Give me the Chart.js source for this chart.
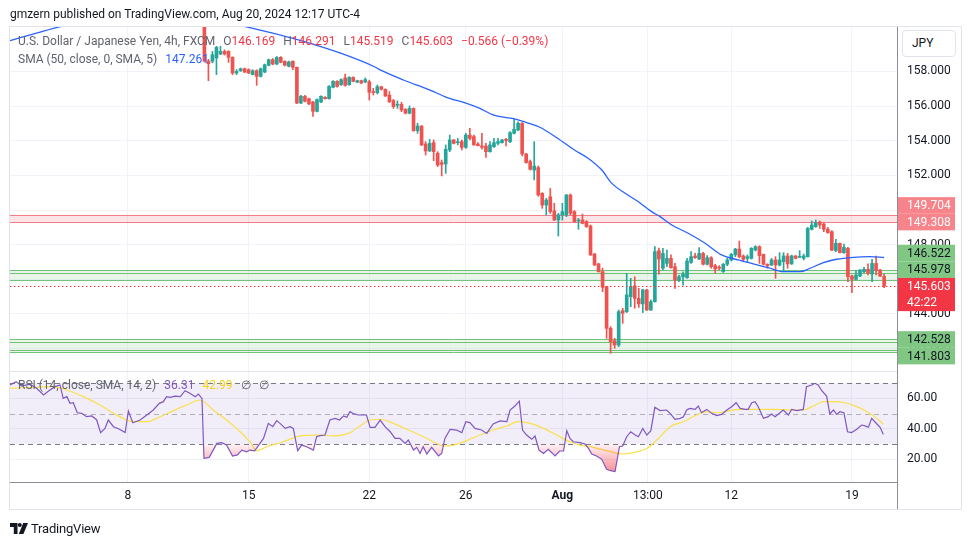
<!DOCTYPE html>
<html><head><meta charset="utf-8">
<script src="https://cdn.jsdelivr.net/npm/chart.js@4.4.1/dist/chart.umd.min.js"></script>
<style>
html,body{margin:0;padding:0;background:#fff;width:970px;height:545px;overflow:hidden;font-family:Roboto,"Noto Sans",sans-serif;}
canvas{position:absolute;left:0;top:0;}
.t{position:absolute;white-space:nowrap;font-size:12px;line-height:16px;z-index:5;}
.t span{margin-left:8px}
.g{color:#60636e}.r{color:#f23645}
</style></head><body>
<div style="position:absolute;left:9px;top:26px;width:953px;height:484px;border:1px solid #e0e3eb;box-sizing:border-box;"></div>
<canvas id="c1" width="970" height="545"></canvas>
<canvas id="c2" width="970" height="545"></canvas>
<div class="t" style="left:10px;top:6px;color:#131722">gmzern published on TradingView.com, Aug 20, 2024 12:17 UTC-4</div>
<div class="t g" style="left:18px;top:33px">U.S. Dollar / Japanese Yen, 4h, FXCM<span>O<b class="r" style="font-weight:normal">146.169</b></span><span>H<b class="r" style="font-weight:normal">146.291</b></span><span>L<b class="r" style="font-weight:normal">145.519</b></span><span>C<b class="r" style="font-weight:normal">145.603</b></span><span class="r">−0.566 (−0.39%)</span></div>
<div class="t g" style="left:18px;top:51px">SMA (50, close, 0, SMA, 5)<span style="color:#2962ff">147.261</span></div>
<div class="t g" style="left:18px;top:377px">RSI (14, close, SMA, 14, 2)<span style="color:#7e57c2">36.31</span><span style="color:#f5d31b">42.99</span><span>∅</span><span>∅</span></div>
<div style="position:absolute;left:902px;top:30px;width:54px;height:27px;border:1px solid #e0e3eb;border-radius:4px;box-sizing:border-box;font-size:12px;line-height:25px;padding-left:9px;color:#131722;z-index:5;background:#fff">JPY</div>
<div style="position:absolute;left:10px;top:521px;z-index:5;display:flex;align-items:center;">
<svg width="18" height="11" viewBox="0 0 18 11"><path d="M0 0h7.5v11H3.8V4H0z" fill="#131722"/><circle cx="9.8" cy="2" r="2" fill="#131722"/><path d="M13.2 0h4.8l-4.6 11H8.8z" fill="#131722"/></svg>
<span style="font-size:13px;color:#131722;margin-left:3px;letter-spacing:-0.2px">TradingView</span></div>
<script>
// ---------------- data ----------------
const candleStart = 49; // candle index of first visible candle (4h bars counted from Jul 1)
const opens = [161.30,158.60,158.59,158.78,159.01,159.16,159.16,158.82,157.91,158.05,
158.16,158.11,157.82,158.05,157.72,157.97,158.36,158.68,158.43,158.82,
158.59,158.30,158.59,158.24,156.18,156.57,156.43,156.24,155.70,156.24,
156.51,156.43,157.09,157.43,157.24,157.63,157.24,157.66,157.39,157.47,
157.39,157.41,156.84,156.78,157.12,156.97,156.64,156.32,156.05,156.10,
155.82,155.59,155.87,154.58,154.85,153.81,153.41,153.89,153.28,152.74,
152.66,153.47,154.05,153.89,153.95,153.62,154.33,154.24,153.81,153.70,
153.70,153.37,153.66,153.85,153.89,154.08,153.95,154.43,154.62,155.01,
153.24,152.80,152.31,152.45,150.97,150.29,150.77,149.95,149.43,149.72,
149.72,150.87,149.91,149.37,149.43,149.33,149.08,147.46,146.89,146.44,
145.58,143.17,142.46,142.21,144.19,144.13,145.00,145.62,144.90,144.58,
145.39,144.23,144.71,147.65,146.64,146.92,147.21,146.73,145.96,146.15,
146.10,146.98,147.35,147.17,147.50,146.87,147.25,146.79,146.71,146.44,
146.87,147.12,147.41,147.75,147.35,147.21,147.21,147.69,147.89,147.44,
146.87,146.83,147.12,146.83,147.02,147.35,146.89,147.35,147.27,147.21,
147.31,148.89,149.04,149.31,149.20,148.89,148.75,147.66,148.08,147.54,
147.79,146.19,146.00,146.19,146.44,146.58,146.31,146.92,146.54,146.169];
const highs = [161.60,158.70,159.16,159.45,159.45,159.25,159.20,158.85,158.11,158.20,
158.20,158.15,158.10,158.10,158.20,158.43,158.72,158.75,158.86,158.86,
158.62,158.60,158.62,158.26,156.62,156.62,156.47,156.28,156.42,156.60,
156.55,157.18,157.47,157.47,157.57,157.85,157.70,157.70,157.50,157.50,
157.63,157.50,157.03,157.22,157.15,157.00,156.84,156.39,156.30,156.22,
155.85,156.01,155.90,155.01,154.88,153.95,154.08,154.05,153.37,152.89,
153.76,154.33,154.08,154.14,154.05,154.43,154.72,154.33,153.89,154.43,
153.85,153.95,154.14,154.14,154.08,154.14,154.53,155.24,155.10,155.05,
153.28,152.89,153.95,152.55,151.00,150.68,151.25,150.39,149.81,150.39,
150.90,150.93,149.97,149.52,149.77,149.39,149.14,147.50,146.93,146.64,
145.60,143.27,142.59,144.23,144.33,146.35,146.06,146.15,145.48,145.42,
145.42,144.81,147.89,147.80,147.79,147.69,147.41,146.92,146.25,146.44,
147.21,147.60,147.50,147.83,147.56,147.37,147.31,146.87,146.79,146.92,
147.21,147.50,147.79,148.21,147.41,147.41,147.83,147.94,147.94,147.46,
146.90,147.21,147.31,147.54,147.54,147.50,147.40,147.38,147.66,147.46,
149.00,149.37,149.43,149.37,149.23,149.00,148.81,148.31,148.10,148.04,
147.85,146.25,146.50,146.56,146.69,146.89,147.15,147.35,146.58,146.291];
const lows = [158.55,157.47,158.50,157.82,158.97,158.95,158.53,157.82,157.82,158.00,
157.93,157.87,157.80,157.20,157.68,157.93,158.32,158.39,158.40,158.50,
158.32,158.26,158.11,156.14,156.14,156.24,156.08,155.41,155.66,156.20,
156.40,156.40,157.05,157.10,157.20,157.16,157.20,157.40,157.35,157.30,
157.35,156.35,156.64,156.70,156.93,156.55,156.20,155.87,155.87,155.68,
155.55,155.55,154.55,154.43,153.72,153.18,153.38,152.85,152.51,151.97,
152.12,153.37,153.82,153.76,153.47,153.56,154.05,153.74,153.70,153.51,
153.04,153.34,153.62,153.76,153.86,153.70,153.89,154.39,154.58,153.12,
152.70,152.31,151.74,150.80,150.10,149.72,149.81,149.39,148.50,149.43,
149.62,149.72,149.30,148.89,149.20,149.00,147.38,146.80,146.42,145.29,
142.59,141.73,142.02,142.11,143.46,144.08,144.42,144.33,144.38,144.08,
144.20,144.20,144.68,146.30,146.54,146.73,146.64,145.48,145.87,145.67,
146.06,146.92,147.21,147.14,146.83,146.83,146.64,146.35,146.54,146.40,
146.79,147.06,147.31,147.25,147.06,146.98,147.17,147.64,146.92,146.83,
146.64,146.79,146.06,146.77,146.44,146.64,146.86,147.18,147.25,147.12,
147.28,148.85,149.00,148.94,148.75,148.66,147.66,147.60,147.52,147.50,
145.87,145.23,145.96,146.15,146.38,146.25,145.87,146.25,146.15,145.519];
const closes = [158.60,158.45,158.97,159.39,159.16,159.01,158.82,157.91,158.01,158.16,
157.97,157.91,158.05,157.72,158.16,158.39,158.68,158.43,158.82,158.53,
158.36,158.55,158.24,156.18,156.57,156.28,156.13,155.70,156.38,156.57,
156.43,157.14,157.43,157.14,157.53,157.20,157.66,157.43,157.47,157.34,
157.53,156.80,156.78,157.12,156.97,156.59,156.26,155.97,156.10,155.78,
155.59,155.87,154.58,154.85,153.76,153.41,153.85,153.37,152.60,152.64,
153.51,154.05,153.85,153.95,153.62,154.33,154.14,153.76,153.72,153.62,
153.37,153.76,153.89,153.95,154.05,154.01,154.47,154.66,155.01,153.24,
152.74,152.35,152.54,150.87,150.29,150.58,149.91,149.43,149.72,149.91,
150.87,149.81,149.33,149.43,149.23,149.04,147.41,146.83,146.44,145.54,
143.17,142.40,142.21,144.13,144.04,145.10,145.58,144.90,144.58,145.39,
144.23,144.71,147.60,147.17,147.50,147.21,146.67,145.96,146.15,146.29,
147.06,147.31,147.25,147.50,146.87,147.25,146.73,146.60,146.64,146.87,
147.12,147.44,147.75,147.31,147.15,147.31,147.79,147.89,147.37,146.87,
146.79,147.12,146.83,147.12,147.35,146.89,147.35,147.21,147.31,147.35,
148.94,149.14,149.27,149.14,148.89,148.70,147.69,148.08,147.54,147.85,
146.15,146.00,146.25,146.54,146.58,146.35,146.92,146.50,146.19,145.603];

// SMA(50) read at vertices (bar index, value)
const smaIdx = [0.7,7,13.8,25,38,50,60.8,72.8,82.7,91.4,92.7,98.5,105.1,109.2,114.2,117.5,120.8,126.6,129.1,132.4,136.7,141,144.4,147.8,150.3,153.6,156.9,160.2,162.3,165.2,169.3,173.5,177.6,181.7,185.9,189.2,193,197.1,199.6,202.9,206.2,210.3,214.5,218];
const smaVal = [159.78,160.2,160.62,161.0,161.2,161.0,160.51,159.8,159.07,158.26,158.09,157.51,156.93,156.51,156.16,155.87,155.49,155.24,155.05,154.78,154.16,153.47,152.99,152.31,151.54,150.97,150.48,149.91,149.62,149.14,148.66,148.08,147.41,147.12,146.87,146.67,146.44,146.44,146.64,146.96,147.16,147.27,147.31,147.26];

// RSI(14) read at vertices
const rsiIdx = [0.7,2.2,3.6,5.6,7.3,9.0,10.6,11.9,13.1,13.9,14.8,15.6,16.4,17.4,18.5,19.7,21.0,22.2,23.2,24.3,25.1,26.4,27.9,29.3,30.1,31.2,33.0,34.7,36.3,37.8,38.8,39.6,40.5,41.7,43.0,44.2,45.4,46.7,47.5,48.4,48.9,50.2,52.1,53.3,54.5,56.0,57.2,58.3,59.5,60.3,61.5,63.7,64.9,66.0,67.0,67.8,69.1,70.3,71.1,72.2,73.2,74.4,76.1,76.9,77.7,79.0,80.2,81.5,82.6,83.6,84.4,85.2,86.2,87.3,88.5,89.3,90.2,91.4,92.7,93.9,95.2,96.4,97.6,98.9,99.7,101.0,101.8,102.6,103.4,104.3,105.5,107.2,108.0,108.8,110.1,111.7,113.0,114.0,115.0,116.3,117.9,119.2,120.8,122.5,124.2,125.0,126.2,127.3,128.1,129.1,130.4,131.2,132.2,133.3,134.5,136.2,137.3,138.3,139.1,139.9,140.7,142.4,143.6,144.5,145.3,146.5,147.8,149.0,150.0,151.1,152.2,153.0,154.0,155.0,156.1,156.9,158.0,159.0,160.0,161.0,162.3,163.9,164.8,166.0,167.3,168.1,168.9,169.7,171.0,171.8,172.6,173.9,175.1,176.4,177.6,178.9,180.1,181.2,182.2,183.4,184.2,185.1,185.9,186.7,188.0,189.2,190.0,190.9,192.1,192.9,194.2,195.0,196.3,197.9,198.7,200.0,200.8,201.6,202.5,203.7,204.5,205.4,206.2,207.0,208.0,208.9,209.9,211.2,212.4,213.3,214.1,214.9,216.2,217.0,217.8];
const rsiVal = [68.9,71.1,68.2,69.5,66.7,62.3,65.6,67.8,68.9,60.1,61.2,56.8,57.2,50.6,50.2,48.0,48.5,46.0,37.5,40.3,45.8,41.4,39.7,37.5,51.7,44.0,45.8,49.1,52.4,56.8,57.9,61.2,60.8,61.6,61.2,65.1,63.4,61.2,62.9,60.0,20.6,21.2,30.4,30.9,29.3,22.1,22.8,26.0,24.9,26.0,25.5,33.7,43.6,41.4,45.4,43.6,40.3,41.4,40.3,25.6,29.3,28.2,26.0,34.8,35.5,35.9,45.8,46.9,45.8,48.5,47.6,51.3,49.8,49.1,49.1,49.1,41.0,41.0,45.8,41.4,38.1,33.7,33.7,30.4,32.6,26.0,27.8,23.8,28.2,23.4,27.8,22.1,23.8,33.7,39.7,39.2,37.5,44.7,44.1,40.3,39.2,37.0,43.2,45.2,44.7,52.4,55.0,58.3,39.2,35.9,33.1,35.3,26.0,23.8,26.5,22.1,25.4,25.4,38.8,33.7,31.5,30.9,30.0,27.1,23.4,22.1,19.9,13.3,12.4,11.8,28.2,28.7,34.8,38.1,35.9,34.8,40.3,35.9,38.8,54.2,52.0,52.4,50.2,46.3,46.9,48.0,52.4,53.5,52.8,55.0,50.6,52.8,50.2,48.7,49.5,52.4,54.6,57.2,53.5,52.8,52.8,57.2,57.9,54.6,46.9,48.0,49.8,48.0,50.6,52.4,49.1,52.8,52.0,52.8,67.8,68.9,70.0,68.9,65.1,61.6,49.8,52.4,49.5,51.3,50.6,38.1,37.5,39.7,42.5,41.9,41.0,46.9,43.2,41.0,36.3];

// RSI smoothing MA(14) read at vertices
const rsiMaIdx = [0.7,6.5,11.4,14.8,18.9,23.0,27.2,29.7,31.3,34.7,38.0,41.3,44.6,47.9,51.2,54.5,57.9,60.3,62.0,64.5,68.6,72.8,76.9,81.1,85.2,87.7,90.2,92.7,96.0,99.3,102.6,105.9,108.4,110.9,114.2,117.5,120.8,124.2,127.1,130.0,133.3,136.6,139.9,142.4,145.7,149.0,153.2,156.5,159.0,161.5,164.8,168.1,171.4,173.9,176.4,179.7,182.2,186.3,190.5,194.6,197.9,200.4,202.9,205.4,208.3,211.2,213.7,216.2,217.8];
const rsiMaVal = [66.7,67.3,67.8,65.6,61.2,55.7,49.1,45.8,44.7,44.7,48.0,52.0,55.7,59.0,52.4,45.8,38.1,31.5,25.6,28.2,31.5,35.3,35.9,35.3,37.5,41.9,45.8,46.3,43.6,39.7,35.9,31.5,28.7,29.3,32.2,35.9,39.2,41.9,44.7,43.6,40.3,35.9,31.5,29.3,27.8,25.6,23.4,24.9,27.1,32.6,41.4,44.7,49.1,51.3,50.6,52.0,52.8,52.8,52.8,52.4,52.4,55.0,57.9,57.9,57.2,54.6,51.3,46.9,43.0];

const tickIdx = [30,60,90,114,138,159.25,180,210];
const tickLabels = ['8','15','22','26','Aug','13:00','12','19'];
const priceStep = 2;
const rsiTicks = [20,40,60];
const rsiDashed = [70,50,30];
const rsiBand = [30,70];
const redZone = [149.308,149.704];
const greenZones = [[145.978,146.522],[141.803,142.528]];
const greenExtraLines = [146.38,142.40,141.92];
const lastPrice = 145.603;
const countdown = '42:22';
const axisTags = [
  {v:149.704, bg:'#f7848b', fg:'#ffffff'},
  {v:149.308, bg:'#f7848b', fg:'#ffffff'},
  {v:146.522, bg:'#81c784', fg:'#131722'},
  {v:145.978, bg:'#81c784', fg:'#131722'},
  {v:142.528, bg:'#81c784', fg:'#131722'},
  {v:141.803, bg:'#81c784', fg:'#131722'}
];

// ---------------- view ----------------
const FONT = 'Roboto, "Noto Sans", sans-serif';
const UP = '#26a69a', DOWN = '#ef5350';
const X_MIN = 0.671, X_MAX = 221.2;
const P_MIN = 140.708, P_MAX = 160.569;
const R_MIN = 4.96, R_MAX = 77.45;

const bars = opens.map((o,i)=>i);
const colOf = i => closes[i] >= opens[i] ? UP : DOWN;

function xScaleCfg(showLabels){
  return {
    type:'linear', min:X_MIN, max:X_MAX, offset:false,
    grid:{color:'#f0f3fa', drawTicks:false, offset:false},
    border:{display:showLabels, color:'#8a8d96'},
    ticks:{display:showLabels, padding:7, color:'#131722', maxRotation:0, autoSkip:false,
      font:(ctx)=>({family:FONT, size:12, weight: (ctx.tick && ctx.tick.label==='Aug') ? 'bold':'normal'}),
      callback:(v)=>{const k=tickIdx.indexOf(v); return k>=0?tickLabels[k]:'';}},
    afterBuildTicks:(s)=>{s.ticks = tickIdx.map(v=>({value:v}));},
    afterFit:(s)=>{s.height = showLabels?27:0;}
  };
}

const pricePlugin = {
  id:'priceDecor',
  beforeDatasetsDraw(chart){
    const {ctx, chartArea:a, scales:{y}} = chart;
    ctx.save();
    ctx.beginPath(); ctx.rect(a.left,a.top,a.right-a.left,a.bottom-a.top); ctx.clip();
    const band=(lo,hi,fill,line)=>{
      const y1=y.getPixelForValue(hi), y2=y.getPixelForValue(lo);
      ctx.fillStyle=fill; ctx.fillRect(a.left,y1,a.right-a.left,y2-y1);
      ctx.strokeStyle=line; ctx.lineWidth=1;
      [y1,y2].forEach(p=>{ctx.beginPath();ctx.moveTo(a.left,Math.round(p)+0.5);ctx.lineTo(a.right,Math.round(p)+0.5);ctx.stroke();});
    };
    band(redZone[0],redZone[1],'rgba(242,54,69,0.13)','#f27c83');
    greenZones.forEach(z=>band(z[0],z[1],'rgba(76,175,80,0.13)','#72c276'));
    ctx.strokeStyle='#72c276';
    greenExtraLines.forEach(v=>{const p=Math.round(y.getPixelForValue(v))+0.5;ctx.beginPath();ctx.moveTo(a.left,p);ctx.lineTo(a.right,p);ctx.stroke();});
    ctx.restore();
  },
  afterDatasetsDraw(chart){
    const {ctx, chartArea:a, scales:{y}} = chart;
    ctx.save();
    const p=Math.round(y.getPixelForValue(lastPrice))+0.5;
    ctx.strokeStyle='#f23645'; ctx.setLineDash([1.5,2.5]); ctx.lineWidth=1;
    ctx.beginPath(); ctx.moveTo(a.left,p); ctx.lineTo(a.right,p); ctx.stroke();
    ctx.restore();
  },
  afterDraw(chart){
    const {ctx, chartArea:a, scales:{y}} = chart;
    const H=16.6, x0=a.right+1, w=57;
    const cur = y.getPixelForValue(lastPrice);
    const curTop = cur - H/2, curBot = curTop + 2*H;
    const above = axisTags.filter(t=>y.getPixelForValue(t.v) < cur);
    const below = axisTags.filter(t=>y.getPixelForValue(t.v) >= cur);
    const placed=[];
    let limit = curTop - H/2;
    above.sort((m,n)=>m.v-n.v).forEach(t=>{ let c=Math.min(y.getPixelForValue(t.v),limit); placed.push([t,c]); limit=c-H; });
    limit = curBot + H/2;
    below.sort((m,n)=>n.v-m.v).forEach(t=>{ let c=Math.max(y.getPixelForValue(t.v),limit); placed.push([t,c]); limit=c+H; });
    ctx.save();
    ctx.font = '12px '+FONT; ctx.textBaseline='middle'; ctx.textAlign='left';
    placed.forEach(([t,c])=>{ ctx.fillStyle=t.bg; ctx.fillRect(x0,c-H/2,w,H); });
    ctx.fillStyle='#f23645'; ctx.fillRect(x0,curTop,w,2*H);
    placed.forEach(([t,c])=>{ ctx.fillStyle=t.fg; ctx.fillText(t.v.toFixed(3), a.right+10, c+0.5); });
    ctx.fillStyle='#ffffff';
    ctx.fillText(lastPrice.toFixed(3), a.right+10, cur+0.5);
    ctx.fillText(countdown, a.right+10, cur+H+0.5);
    ctx.restore();
  }
};

new Chart(document.getElementById('c1'), {
  type:'bar',
  data:{datasets:[
    {type:'line', data:smaIdx.map((x,i)=>({x, y:smaVal[i]})), borderColor:'#2962ff', borderWidth:1.3, pointRadius:0, cubicInterpolationMode:'monotone', order:0},
    {type:'bar', data:bars.map(i=>({x:candleStart+i, y:[opens[i],closes[i]]})), backgroundColor:bars.map(colOf), barThickness:3, minBarLength:1, grouped:false, order:1},
    {type:'bar', data:bars.map(i=>({x:candleStart+i, y:[lows[i],highs[i]]})), backgroundColor:bars.map(colOf), barThickness:1, grouped:false, order:2}
  ]},
  options:{
    responsive:false, animation:false, events:[],
    layout:{padding:{left:10,right:10,top:27,bottom:174}},
    plugins:{legend:{display:false}, tooltip:{enabled:false}},
    scales:{
      x:xScaleCfg(false),
      y:{position:'right', min:P_MIN, max:P_MAX,
        grid:{color:'#f0f3fa', drawTicks:false}, border:{color:'#8a8d96'},
        ticks:{stepSize:priceStep, padding:10, color:'#131722', font:{family:FONT,size:12}, callback:v=>v.toFixed(3)},
        afterBuildTicks:(s)=>{s.ticks=s.ticks.filter(t=>Math.abs(t.value/priceStep-Math.round(t.value/priceStep))<1e-6);},
        afterFit:(s)=>{s.width=63;}}
    }
  },
  plugins:[pricePlugin]
});

const rsiPlugin = {
  id:'rsiDecor',
  beforeDatasetsDraw(chart){
    const {ctx, chartArea:a, scales:{y}} = chart;
    ctx.save();
    const y1=y.getPixelForValue(rsiBand[1]), y2=y.getPixelForValue(rsiBand[0]);
    ctx.fillStyle='rgba(126,87,194,0.1)'; ctx.fillRect(a.left,y1,a.right-a.left,y2-y1);
    ctx.setLineDash([5,4]); ctx.lineWidth=1;
    rsiDashed.forEach(v=>{ const p=Math.round(y.getPixelForValue(v))+0.5;
      ctx.strokeStyle = v===50 ? 'rgba(120,123,134,0.55)' : '#787b86';
      ctx.beginPath(); ctx.moveTo(a.left,p); ctx.lineTo(a.right,p); ctx.stroke(); });
    ctx.restore();
  },
  afterDraw(chart){
    const {ctx, chartArea:a} = chart;
    ctx.save();
    ctx.strokeStyle='#e0e3eb'; ctx.lineWidth=1;
    ctx.beginPath(); ctx.moveTo(a.left,a.top-0.5); ctx.lineTo(a.right,a.top-0.5); ctx.stroke();
    ctx.strokeStyle='#8a8d96';
    ctx.beginPath(); ctx.moveTo(a.right+0.5,a.bottom); ctx.lineTo(a.right+0.5,a.bottom+27); ctx.stroke();
    ctx.restore();
  }
};

new Chart(document.getElementById('c2'), {
  type:'line',
  data:{datasets:[
    {data:rsiIdx.map((x,i)=>({x, y:rsiVal[i]})), borderColor:'#7e57c2', borderWidth:1.2, pointRadius:0, tension:0, order:0,
      fill:{target:{value:rsiBand[0]}, above:'rgba(0,0,0,0)'},
      backgroundColor:(c)=>{const ch=c.chart; if(!ch.chartArea||!ch.scales.y) return 'rgba(242,54,69,0.25)';
        const ys=ch.scales.y; const g=ch.ctx.createLinearGradient(0,ys.getPixelForValue(30),0,ys.getPixelForValue(10));
        g.addColorStop(0,'rgba(242,54,69,0.06)'); g.addColorStop(1,'rgba(242,54,69,0.6)'); return g;}},
    {data:rsiMaIdx.map((x,i)=>({x, y:rsiMaVal[i]})), borderColor:'#f9e04b', borderWidth:1.2, pointRadius:0, cubicInterpolationMode:'monotone', fill:false, order:1}
  ]},
  options:{
    responsive:false, animation:false, events:[],
    layout:{padding:{left:10,right:10,top:372,bottom:36}},
    plugins:{legend:{display:false}, tooltip:{enabled:false}},
    scales:{
      x:xScaleCfg(true),
      y:{position:'right', min:R_MIN, max:R_MAX,
        grid:{color:'#eef0f6', drawTicks:false}, border:{color:'#8a8d96'},
        ticks:{padding:10, color:'#131722', font:{family:FONT,size:12}, callback:v=>v.toFixed(2)},
        afterBuildTicks:(s)=>{s.ticks=rsiTicks.map(v=>({value:v}));},
        afterFit:(s)=>{s.width=63;}}
    }
  },
  plugins:[rsiPlugin]
});
</script>
</body></html>
